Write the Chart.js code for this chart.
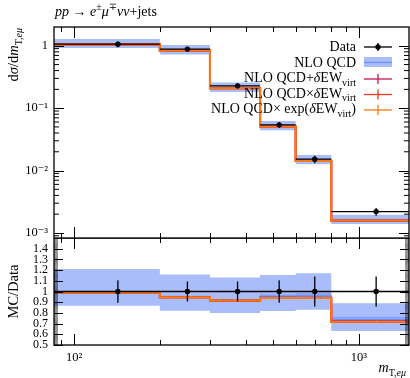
<!DOCTYPE html>
<html>
<head>
<meta charset="utf-8">
<script src="https://cdn.jsdelivr.net/npm/chart.js@4.4.1/dist/chart.umd.min.js"></script>
<style>
  html, body { margin: 0; padding: 0; background: #fff; }
  #wrap { position: relative; width: 410px; height: 378px; }
  canvas { position: absolute; left: 0; }
  #topCanvas { top: 0; }
  #ratioCanvas { top: 238px; }
</style>
</head>
<body>
<div id="wrap">
  <canvas id="topCanvas" width="410" height="239"></canvas>
  <canvas id="ratioCanvas" width="410" height="140"></canvas>
</div>
<script>
// Binning (m_T,eμ in GeV)
const binEdges = [85, 200, 300, 450, 600, 800, 1500];
const binCenters = [142.5, 250, 375, 525, 700, 1150];

// Data (normalised cross section) and relative errors
const dataValues = [1.06, 0.885, 0.228, 0.054, 0.0152, 0.0022];
const dataRelErr = [0.106, 0.094, 0.094, 0.105, 0.14, 0.14];

// MC / Data ratios
const qcdRatio = [0.993, 0.952, 0.918, 0.955, 0.96, 0.738];
const qcdBandLo = [0.867, 0.82, 0.80, 0.818, 0.83, 0.63];
const qcdBandHi = [1.21, 1.16, 1.13, 1.154, 1.17, 0.89];
const qcdInnerLo = [0.985, 0.944, 0.91, 0.935, 0.936, 0.71];
const qcdInnerHi = [1.0, 0.96, 0.925, 0.975, 0.985, 0.765];
const ewAddRatio = [0.99, 0.948, 0.916, 0.941, 0.942, 0.722];
const ewMultRatio = [0.99, 0.945, 0.914, 0.939, 0.939, 0.716];
const ewExpRatio = [0.99, 0.946, 0.915, 0.94, 0.94, 0.718];
const ewRelErr = [0.004, 0.004, 0.005, 0.006, 0.008, 0.015];

// Axis ticks
const xMajorTicks = [100, 1000];
const xMinorTicks = [90, 200, 300, 400, 500, 600, 700, 800, 900];
const xTickLabels = ['10²', '10³'];
const yTopMajor = [0.001, 0.01, 0.1, 1];
const yTopLabels = ['10⁻³', '10⁻²', '10⁻¹', '1'];
const yRatioMajor = [0.5, 0.6, 0.7, 0.8, 0.9, 1.0, 1.1, 1.2, 1.3, 1.4];
const yRatioLabels = ['0.5', '0.6', '0.7', '0.8', '0.9', '1', '1.1', '1.2', '1.3', '1.4'];

// Colours
const BAND = '#a8bdf9';
const BAND_DARK = '#8aa4f6';
const QCD_LINE = '#6d8ef5';
const C_ADD = '#c8134f';
const C_MULT = '#f2381c';
const C_EXP = '#fb7a12';
const FONT = "'Liberation Serif', 'DejaVu Serif', serif";

Chart.defaults.font.family = FONT;
Chart.defaults.color = '#000';

// helpers to turn bin arrays into drawable point lists
function steps(vals) {
    const pts = vals.map((v, i) => ({ x: binEdges[i], y: v }));
    pts.push({ x: binEdges[vals.length], y: vals[vals.length - 1] });
    return pts;
}
function hbars(vals) {
    const pts = [];
    vals.forEach((v, i) => {
        pts.push({ x: binEdges[i], y: v }, { x: binEdges[i + 1], y: v }, { x: binEdges[i + 1], y: null });
    });
    return pts;
}
function vbars(vals, rel) {
    const pts = [];
    vals.forEach((v, i) => {
        pts.push({ x: binCenters[i], y: v * (1 - rel[i]) }, { x: binCenters[i], y: v * (1 + rel[i]) }, { x: binCenters[i], y: null });
    });
    return pts;
}
function times(r, d) { return r.map((v, i) => v * d[i]); }

function buildDatasets(scale, dataLine, dataPts) {
    const base = { pointRadius: 0, pointHoverRadius: 0, tension: 0, spanGaps: false, fill: false };
    return [
        { ...base, data: steps(scale(qcdBandLo)), stepped: true, borderWidth: 0, borderColor: 'transparent', order: 10 },
        { ...base, data: steps(scale(qcdBandHi)), stepped: true, borderWidth: 0, borderColor: 'transparent', fill: '-1', backgroundColor: BAND, order: 10 },
        { ...base, data: steps(scale(qcdInnerLo)), stepped: true, borderWidth: 0, borderColor: 'transparent', order: 9 },
        { ...base, data: steps(scale(qcdInnerHi)), stepped: true, borderWidth: 0, borderColor: 'transparent', fill: '-1', backgroundColor: BAND_DARK, order: 9 },
        { ...base, data: steps(scale(qcdRatio)), stepped: true, borderWidth: 1.2, borderColor: QCD_LINE, order: 8 },
        { ...base, data: steps(scale(ewAddRatio)), stepped: true, borderWidth: 2, borderColor: C_ADD, order: 7 },
        { ...base, data: steps(scale(ewMultRatio)), stepped: true, borderWidth: 2, borderColor: C_MULT, order: 6 },
        { ...base, data: steps(scale(ewExpRatio)), stepped: true, borderWidth: 2, borderColor: C_EXP, order: 5 },
        { ...base, data: vbars(scale(ewExpRatio), ewRelErr), borderWidth: 1.8, borderColor: C_EXP, order: 5 },
        { ...base, data: hbars(dataLine), borderWidth: 1.3, borderColor: '#000', order: 2 },
        { ...base, data: vbars(dataLine, dataRelErr), borderWidth: 1.3, borderColor: '#000', order: 1 },
        { ...base, data: dataPts, showLine: false, pointRadius: 2.7, pointBackgroundColor: '#000', pointBorderWidth: 0, order: 0 }
    ];
}

// rich text: segments with italic / sub / sup
function segFont(s, size) {
    const sz = (s.sub || s.sup) ? Math.round(size * 0.68) : size;
    return (s.it ? 'italic ' : '') + sz + 'px ' + FONT;
}
function richWidth(ctx, segs, size) {
    let w = 0;
    segs.forEach(s => { ctx.font = segFont(s, size); w += ctx.measureText(s.t).width; });
    return w;
}
function drawRich(ctx, segs, x, y, size, align) {
    let cx = x;
    if (align === 'right') cx = x - richWidth(ctx, segs, size);
    if (align === 'center') cx = x - richWidth(ctx, segs, size) / 2;
    ctx.textAlign = 'left';
    ctx.textBaseline = 'alphabetic';
    segs.forEach(s => {
        ctx.font = segFont(s, size);
        let dy = 0;
        if (s.sub) dy = size * 0.28;
        if (s.sup) dy = -size * 0.4;
        ctx.fillText(s.t, cx, y + dy);
        cx += ctx.measureText(s.t).width;
    });
}

function drawTicks(chart, yMajor, yMinor, yMajLen, yMinLen, yMinWidth) {
    const { ctx, chartArea: a, scales } = chart;
    ctx.save();
    ctx.strokeStyle = '#000';
    const line = (x1, y1, x2, y2, w) => {
        ctx.lineWidth = w;
        ctx.beginPath(); ctx.moveTo(x1, y1); ctx.lineTo(x2, y2); ctx.stroke();
    };
    xMajorTicks.forEach(v => {
        const px = Math.round(scales.x.getPixelForValue(v)) + 0.5;
        line(px, a.bottom, px, a.bottom - 11, 1);
        line(px, a.top, px, a.top + 11, 1);
    });
    xMinorTicks.forEach(v => {
        const px = Math.round(scales.x.getPixelForValue(v)) + 0.5;
        line(px, a.bottom, px, a.bottom - 5, 1);
        line(px, a.top, px, a.top + 5, 1);
    });
    yMajor.forEach(v => {
        const py = Math.round(scales.y.getPixelForValue(v)) + 0.5;
        line(a.left, py, a.left + yMajLen, py, 1);
        line(a.right, py, a.right - yMajLen, py, 1);
    });
    yMinor.forEach(v => {
        const py = scales.y.getPixelForValue(v);
        line(a.left, py, a.left + yMinLen, py, yMinWidth);
        line(a.right, py, a.right - yMinLen, py, yMinWidth);
    });
    ctx.lineWidth = 1.3;
    ctx.strokeRect(a.left, a.top, a.right - a.left, a.bottom - a.top);
    ctx.restore();
}

// minor tick positions
const yTopMinor = [];
for (let k = -4; k <= 0; k++) {
    for (let m = 2; m <= 9; m++) {
        const v = m * Math.pow(10, k);
        if (v > 8.3e-4 && v < 2.0) yTopMinor.push(v);
    }
}
const yRatioMinor = [];
for (let i = 50; i <= 150; i++) yRatioMinor.push(i / 100);

const topPlugin = {
    id: 'topDecor',
    afterDatasetsDraw(chart) {
        drawTicks(chart, yTopMajor, yTopMinor, 10, 5, 1);
        const ctx = chart.ctx;
        ctx.save();
        ctx.fillStyle = '#000';
        // title
        drawRich(ctx, [
            { t: 'pp', it: true }, { t: ' → ' }, { t: 'e', it: true }, { t: '±', sup: true },
            { t: 'μ', it: true }, { t: '∓', sup: true }, { t: 'νν', it: true }, { t: '+jets' }
        ], 55, 16, 14);
        // y title
        ctx.save();
        ctx.translate(18, 28);
        ctx.rotate(-Math.PI / 2);
        drawRich(ctx, [
            { t: 'd' }, { t: 'σ', it: true }, { t: '/d' }, { t: 'm', it: true },
            { t: 'T,', sub: true }, { t: 'eμ', sub: true, it: true }
        ], 0, 0, 14.5, 'right');
        ctx.restore();
        // legend
        const tx = 356, sx0 = 364, sx1 = 392, sc = 378;
        const rows = [
            { segs: [{ t: 'Data' }], base: 51 },
            { segs: [{ t: 'NLO QCD' }], base: 66.5 },
            { segs: [{ t: 'NLO QCD+' }, { t: 'δ', it: true }, { t: 'EW' }, { t: 'virt', sub: true }], base: 82 },
            { segs: [{ t: 'NLO QCD×' }, { t: 'δ', it: true }, { t: 'EW' }, { t: 'virt', sub: true }], base: 97.5 },
            { segs: [{ t: 'NLO QCD× exp(' }, { t: 'δ', it: true }, { t: 'EW' }, { t: 'virt', sub: true }, { t: ')' }], base: 113 }
        ];
        rows.forEach(r => drawRich(ctx, r.segs, tx, r.base, 14, 'right'));
        const seg = (x1, y1, x2, y2, c, w) => {
            ctx.strokeStyle = c; ctx.lineWidth = w;
            ctx.beginPath(); ctx.moveTo(x1, y1); ctx.lineTo(x2, y2); ctx.stroke();
        };
        // data
        seg(sx0, 47, sx1, 47, '#000', 1.3);
        seg(sc, 43, sc, 51, '#000', 1.3);
        ctx.fillStyle = '#000';
        ctx.beginPath(); ctx.arc(sc, 47, 2.7, 0, Math.PI * 2); ctx.fill();
        // NLO QCD
        ctx.fillStyle = BAND;
        ctx.fillRect(sx0, 57, sx1 - sx0, 10);
        seg(sx0, 62.5, sx1, 62.5, QCD_LINE, 1.2);
        // EW variants
        [[C_ADD, 79], [C_MULT, 94.5], [C_EXP, 110]].forEach(([c, y]) => {
            seg(sx0, y, sx1, y, c, 1.3);
            seg(sc, y - 5, sc, y + 5, c, 1.3);
        });
        ctx.restore();
    }
};

const ratioPlugin = {
    id: 'ratioDecor',
    afterDatasetsDraw(chart) {
        drawTicks(chart, yRatioMajor, yRatioMinor, 9, 4, 0.5);
        const ctx = chart.ctx;
        ctx.save();
        ctx.fillStyle = '#000';
        ctx.save();
        ctx.translate(18, 53.5);
        ctx.rotate(-Math.PI / 2);
        drawRich(ctx, [{ t: 'MC/Data' }], 0, 0, 14.5, 'center');
        ctx.restore();
        drawRich(ctx, [{ t: 'm', it: true }, { t: 'T,', sub: true }, { t: 'eμ', sub: true, it: true }], 406, 134, 14, 'right');
        ctx.restore();
    }
};

function fixedY(width) {
    return s => { s.width = width; s.paddingTop = 0; s.paddingBottom = 0; };
}
function fixedX(height) {
    return s => { s.height = height; s.paddingLeft = 0; s.paddingRight = 0; };
}

// top panel
new Chart(document.getElementById('topCanvas'), {
    type: 'line',
    data: { datasets: buildDatasets(r => times(r, dataValues), dataValues, binCenters.map((c, i) => ({ x: c, y: dataValues[i] }))) },
    options: {
        responsive: false,
        animation: false,
        events: [],
        layout: { autoPadding: false, padding: { top: 27, right: 1, bottom: 1, left: 0 } },
        plugins: { legend: { display: false }, tooltip: { enabled: false } },
        scales: {
            x: {
                type: 'logarithmic', min: 85, max: 1500,
                grid: { display: false, drawTicks: false }, border: { display: false },
                ticks: { display: false },
                afterFit: fixedX(0)
            },
            y: {
                type: 'logarithmic', min: 8.3e-4, max: 2.0,
                grid: { display: false, drawTicks: false }, border: { display: false },
                afterBuildTicks: s => { s.ticks = yTopMajor.map(v => ({ value: v })); },
                ticks: {
                    autoSkip: false, padding: 6, font: { size: 12.5 },
                    callback: v => yTopLabels[yTopMajor.indexOf(v)] ?? ''
                },
                afterFit: fixedY(54)
            }
        }
    },
    plugins: [topPlugin]
});

// ratio panel
const ones = dataValues.map(() => 1);
new Chart(document.getElementById('ratioCanvas'), {
    type: 'line',
    data: { datasets: buildDatasets(r => r, ones, binCenters.map(c => ({ x: c, y: 1 }))) },
    options: {
        responsive: false,
        animation: false,
        events: [],
        layout: { autoPadding: false, padding: { top: 0, right: 1, bottom: 0, left: 0 } },
        plugins: { legend: { display: false }, tooltip: { enabled: false } },
        scales: {
            x: {
                type: 'logarithmic', min: 85, max: 1500,
                grid: { display: false, drawTicks: false }, border: { display: false },
                afterBuildTicks: s => { s.ticks = xMajorTicks.map(v => ({ value: v })); },
                ticks: {
                    autoSkip: false, maxRotation: 0, padding: 5, font: { size: 12.5 },
                    callback: v => xTickLabels[xMajorTicks.indexOf(v)] ?? ''
                },
                afterFit: fixedX(33)
            },
            y: {
                type: 'linear', min: 0.5, max: 1.5,
                grid: { display: false, drawTicks: false }, border: { display: false },
                afterBuildTicks: s => { s.ticks = yRatioMajor.map(v => ({ value: v })); },
                ticks: {
                    autoSkip: false, padding: 6, font: { size: 12 },
                    callback: (v, i) => yRatioLabels[i]
                },
                afterFit: fixedY(54)
            }
        }
    },
    plugins: [ratioPlugin]
});
</script>
</body>
</html>
